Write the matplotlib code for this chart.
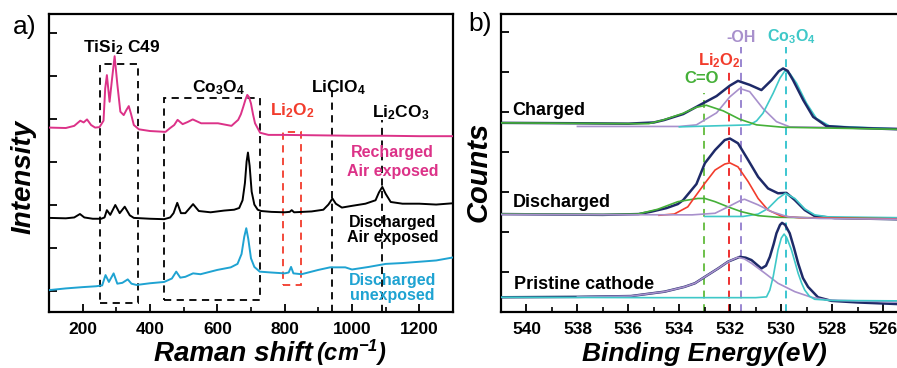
import matplotlib
matplotlib.use('Agg')
import matplotlib.pyplot as plt
from matplotlib.patches import Rectangle
from matplotlib.ticker import MultipleLocator

plt.rcParams['font.family'] = ['Liberation Sans', 'DejaVu Sans']
plt.rcParams['font.weight'] = 'bold'
plt.rcParams['mathtext.default'] = 'regular'

# ---- a) Raman spectra (shift in cm-1, stacked intensity) ----
recharged_x = [100, 150, 175, 193, 203, 213, 225, 237, 250, 262, 267, 272, 276, 280, 287, 295, 303, 312, 322, 330,
               337, 344, 352, 367, 400, 446, 460, 472, 482, 497, 512, 527, 552, 602, 642, 662, 670, 677, 684,
               689, 694, 700, 706, 712, 727, 752, 800, 900, 1000, 1100, 1200, 1300]
recharged_y = [4.29, 4.28, 4.33, 4.45, 4.41, 4.48, 4.35, 4.29, 4.3, 4.45, 5.2, 5.51, 5.2, 4.89, 5.4, 5.95, 5.3, 4.66, 4.58, 4.7,
               4.79, 4.6, 4.35, 4.25, 4.21, 4.19, 4.28, 4.35, 4.47, 4.37, 4.42, 4.48, 4.39, 4.39, 4.33, 4.47, 4.6, 4.77, 4.95,
               5.05, 5.0, 4.85, 4.6, 4.39, 4.17, 4.12, 4.12, 4.11, 4.1, 4.1, 4.09, 4.09]

air_x = [100, 150, 175, 192, 205, 230, 255, 265, 272, 282, 297, 310, 325, 340, 352, 400, 442, 460, 470, 481, 492, 505,
         528, 545, 580, 620, 650, 665, 675, 682, 687, 691, 696, 702, 710, 720, 730, 760, 800, 815, 821, 828, 880, 915,
         930, 942, 952, 970, 1000, 1040, 1070, 1080, 1090, 1100, 1115, 1150, 1200, 1250, 1300]
air_y = [2.19, 2.18, 2.2, 2.28, 2.2, 2.17, 2.17, 2.2, 2.37, 2.26, 2.49, 2.3, 2.45, 2.25, 2.19, 2.17, 2.16, 2.2, 2.3, 2.54, 2.3, 2.3,
         2.51, 2.35, 2.32, 2.36, 2.38, 2.42, 2.6, 3.0, 3.5, 3.71, 3.4, 2.8, 2.5, 2.38, 2.35, 2.33, 2.32, 2.33, 2.37, 2.32, 2.34, 2.38,
         2.5, 2.64, 2.52, 2.43, 2.47, 2.52, 2.6, 2.78, 2.91, 2.75, 2.56, 2.52, 2.52, 2.5, 2.53]

unexp_x = [100, 150, 200, 240, 258, 268, 278, 292, 303, 318, 334, 345, 360, 400, 442, 465, 478, 490, 505, 528, 550, 600,
           640, 660, 672, 680, 686, 692, 700, 710, 726, 760, 800, 812, 819, 826, 850, 900, 935, 980, 1000, 1050, 1100,
           1150, 1200, 1250, 1300]
unexp_y = [0.51, 0.55, 0.58, 0.6, 0.62, 0.86, 0.7, 0.9, 0.66, 0.68, 0.76, 0.66, 0.63, 0.67, 0.7, 0.78, 0.94, 0.8, 0.82, 0.9, 0.88, 0.98,
           1.04, 1.12, 1.35, 1.75, 1.95, 1.7, 1.25, 1.05, 0.94, 0.92, 0.9, 0.92, 1.05, 0.9, 0.88, 0.98, 1.04, 1.04, 0.99, 1.05, 1.12,
           1.14, 1.17, 1.2, 1.27]

# band regions marked on the Raman plot: (x0, x1, y0, y1)
tisi2_box = (252, 365, 0.2, 5.78)
co3o4_box = (442, 726, 0.28, 4.97)
li2o2_box = (796, 848, 0.63, 4.19)
liclo4_pos, liclo4_top = 942, 5.2
li2co3_pos, li2co3_top = 1090, 4.47

# ---- b) O 1s XPS (binding energy in eV) ----
ch_env_x = [541, 538, 536, 535, 534.6, 533.85, 533.33, 533.07, 532.54, 532.02, 531.7, 531.24, 530.78, 530.38, 530.1,
            529.93, 529.75, 529.54, 529.14, 528.75, 528.23, 527.3, 525.45]
ch_env_y = [4.73, 4.72, 4.71, 4.74, 4.8, 4.95, 5.13, 5.22, 5.4, 5.66, 5.78, 5.68, 5.55, 5.8, 6.02,
            6.09, 6.03, 5.8, 5.3, 4.88, 4.65, 4.61, 4.57]
ch_co_x = [541, 536, 535.2, 534.64, 533.85, 533.33, 532.94, 532.28, 531.63, 530.97, 529.93, 525.45]
ch_co_y = [4.73, 4.71, 4.71, 4.8, 4.97, 5.12, 5.17, 5.03, 4.82, 4.68, 4.62, 4.57]
ch_oh_x = [538, 534, 533.33, 532.54, 532.02, 531.63, 531.24, 530.72, 530.19, 529.67, 528.5, 525.45]
ch_oh_y = [4.64, 4.64, 4.68, 4.98, 5.38, 5.59, 5.51, 5.09, 4.76, 4.63, 4.62, 4.6]
ch_cox_x = [534, 531.24, 530.97, 530.72, 530.32, 530.05, 529.86, 529.65, 529.4, 529.01, 528.62, 528.1, 525.45]
ch_cox_y = [4.63, 4.68, 4.78, 4.97, 5.47, 5.85, 6.03, 5.95, 5.72, 5.22, 4.84, 4.65, 4.58]

dis_env_x = [541, 537, 535.6, 535.1, 534.5, 534.06, 533.85, 533.33, 533.0, 532.6, 532.22, 532.02, 531.7, 531.3, 530.91,
             530.52, 530.13, 529.8, 529.47, 529.08, 528.69, 527.9, 525.45]
dis_env_y = [2.45, 2.43, 2.45, 2.51, 2.6, 2.7, 2.8, 3.2, 3.72, 4.05, 4.3, 4.34, 4.22, 3.8, 3.38,
             3.09, 2.97, 2.98, 2.8, 2.55, 2.4, 2.35, 2.32]
dis_li_x = [534.8, 534.2, 533.67, 533.39, 533.0, 532.6, 532.22, 532.02, 531.7, 531.3, 530.91, 530.52, 530.0, 529.3, 525.45]
dis_li_y = [2.42, 2.45, 2.63, 2.88, 3.22, 3.55, 3.7, 3.73, 3.63, 3.26, 2.84, 2.55, 2.4, 2.36, 2.33]
dis_co_x = [541, 537, 535.63, 534.85, 534.06, 533.28, 533.0, 532.6, 532.09, 531.57, 530.91, 530.13, 528, 525.45]
dis_co_y = [2.45, 2.44, 2.45, 2.57, 2.76, 2.84, 2.84, 2.76, 2.63, 2.51, 2.41, 2.37, 2.35, 2.33]
dis_oh_x = [541, 533.5, 532.6, 532.09, 531.57, 531.44, 530.91, 530.38, 529.73, 528.5, 525.45]
dis_oh_y = [2.44, 2.43, 2.47, 2.63, 2.8, 2.82, 2.68, 2.51, 2.38, 2.34, 2.32]
dis_cox_x = [533, 531.5, 530.91, 530.52, 530.13, 529.84, 529.47, 529.08, 528.69, 528.16, 525.45]
dis_cox_y = [2.39, 2.39, 2.45, 2.59, 2.84, 2.97, 2.84, 2.58, 2.43, 2.38, 2.36]

pr_env_x = [541, 538, 535.9, 534.58, 533.8, 533.39, 533.0, 532.48, 532.09, 531.63, 531.4, 531.17, 530.95, 530.78,
            530.6, 530.45, 530.3, 530.19, 530.05, 529.97, 529.85, 529.67, 529.5, 529.34, 529.15, 528.95, 528.56,
            528.03, 527, 525.45]
pr_env_y = [0.37, 0.38, 0.4, 0.51, 0.63, 0.72, 0.88, 1.09, 1.26, 1.38, 1.36, 1.3, 1.18, 1.09,
            1.16, 1.38, 1.7, 1.97, 2.18, 2.23, 2.18, 1.97, 1.6, 1.22, 0.85, 0.63, 0.37,
            0.28, 0.24, 0.2]
pr_oh_x = [538, 535.9, 534.58, 533.8, 533.39, 533.0, 532.48, 532.09, 531.7, 531.45, 531.17, 530.64, 530.13, 529.47,
           528.82, 528.16, 525.45]
pr_oh_y = [0.38, 0.4, 0.51, 0.63, 0.72, 0.88, 1.09, 1.26, 1.37, 1.33, 1.22, 0.97, 0.72, 0.51, 0.37, 0.3, 0.25]
pr_cox_x = [541, 535, 531, 530.58, 530.45, 530.32, 530.2, 530.13, 530.0, 529.89, 529.78, 529.6, 529.45, 529.34,
            529.2, 529.08, 528.9, 528.69, 528, 525.45]
pr_cox_y = [0.37, 0.36, 0.36, 0.38, 0.55, 0.88, 1.3, 1.55, 1.85, 1.95, 1.85, 1.55, 1.22, 0.97,
            0.72, 0.55, 0.4, 0.32, 0.29, 0.28]

# reference binding energies and how high their dashed markers go
marker_be = [533.05, 532.05, 531.6, 529.8]
marker_top = [5.47, 6.0, 6.63, 6.63]

pink = '#dc3288'
blue = '#1fa3d2'
red = '#f23c2c'
navy = '#1e2a68'
green = '#45b038'
lav = '#a890cc'
cyan = '#3fc8c8'

fig = plt.figure(figsize=(8.97, 3.68), dpi=100)
ax1 = fig.add_axes([0.0546, 0.152, 0.4504, 0.8098])
ax2 = fig.add_axes([0.5585, 0.152, 0.4415, 0.8098])

# ---------- panel a ----------
dash = (0, (4, 3))
for (x0, x1, y0, y1), c in [(tisi2_box, 'k'), (co3o4_box, 'k'), (li2o2_box, red)]:
    ax1.add_patch(Rectangle((x0, y0), x1 - x0, y1 - y0, fill=False, ec=c, lw=1.3, ls=dash, zorder=1))
ax1.plot([liclo4_pos, liclo4_pos], [0, liclo4_top], color='k', lw=1.3, ls=dash, zorder=1)
ax1.plot([li2co3_pos, li2co3_pos], [0, li2co3_top], color='k', lw=1.3, ls=dash, zorder=1)

ax1.plot(recharged_x, recharged_y, color=pink, lw=1.4, zorder=3)
ax1.plot(air_x, air_y, color='k', lw=1.4, zorder=3)
ax1.plot(unexp_x, unexp_y, color=blue, lw=1.4, zorder=3)

ax1.text(316, 6.05, 'TiSi$_2$ C49', ha='center', va='baseline', fontsize=12.5)
ax1.text(603, 5.12, 'Co$_3$O$_4$', ha='center', va='baseline', fontsize=12.5)
ax1.text(960, 5.12, 'LiClO$_4$', ha='center', va='baseline', fontsize=12.5)
ax1.text(822, 4.58, 'Li$_2$O$_2$', ha='center', va='baseline', fontsize=12.5, color=red)
ax1.text(1146, 4.53, 'Li$_2$CO$_3$', ha='center', va='baseline', fontsize=12.5)

ax1.text(1120, 3.61, 'Recharged', ha='center', va='baseline', fontsize=11.5, color=pink)
ax1.text(1120, 3.17, 'Air exposed', ha='center', va='baseline', fontsize=11.5, color=pink)
ax1.text(1120, 1.98, 'Discharged', ha='center', va='baseline', fontsize=11.5, color='k')
ax1.text(1120, 1.63, 'Air exposed', ha='center', va='baseline', fontsize=11.5, color='k')
ax1.text(1120, 0.63, 'Discharged', ha='center', va='baseline', fontsize=11.5, color=blue)
ax1.text(1120, 0.28, 'unexposed', ha='center', va='baseline', fontsize=11.5, color=blue)

ax1.set_xlim(100, 1300)
ax1.set_ylim(0, 6.93)
ax1.xaxis.set_major_locator(MultipleLocator(200))
ax1.xaxis.set_minor_locator(MultipleLocator(100))
ax1.set_yticks([0.5, 1.5, 2.5, 3.5, 4.5, 5.5, 6.5])
ax1.set_yticklabels([])

# ---------- panel b ----------
for be, top, c in zip(marker_be, marker_top, ['#6cc04a', '#ee3030', '#9a86d0', '#3cc6d0']):
    ax2.plot([be, be], [0, top], color=c, lw=1.4, ls=(0, (4, 3)), zorder=1)

ax2.plot(ch_oh_x, ch_oh_y, color=lav, lw=1.2, zorder=2)
ax2.plot(ch_cox_x, ch_cox_y, color=cyan, lw=1.2, zorder=2)
ax2.plot(ch_env_x, ch_env_y, color=navy, lw=1.8, zorder=3)
ax2.plot(ch_co_x, ch_co_y, color=green, lw=1.2, zorder=4)

ax2.plot(dis_env_x, dis_env_y, color=navy, lw=1.8, zorder=3)
ax2.plot(dis_cox_x, dis_cox_y, color=cyan, lw=1.2, zorder=4)
ax2.plot(dis_co_x, dis_co_y, color=green, lw=1.2, zorder=4)
ax2.plot(dis_li_x, dis_li_y, color=red, lw=1.2, zorder=4)
ax2.plot(dis_oh_x, dis_oh_y, color=lav, lw=1.2, zorder=4)

ax2.plot(pr_env_x, pr_env_y, color=navy, lw=1.8, zorder=3)
ax2.plot(pr_oh_x, pr_oh_y, color=lav, lw=1.2, zorder=4)
ax2.plot(pr_cox_x, pr_cox_y, color=cyan, lw=1.2, zorder=4)

ax2.text(540.55, 4.93, 'Charged', ha='left', va='baseline', fontsize=13)
ax2.text(540.55, 2.63, 'Discharged', ha='left', va='baseline', fontsize=13)
ax2.text(540.5, 0.57, 'Pristine cathode', ha='left', va='baseline', fontsize=13)

ax2.text(533.13, 5.72, 'C=O', ha='center', va='baseline', fontsize=12, color=green)
ax2.text(532.41, 6.18, 'Li$_2$O$_2$', ha='center', va='baseline', fontsize=12, color=red)
ax2.text(531.56, 6.76, '-OH', ha='center', va='baseline', fontsize=11.5, color=lav)
ax2.text(529.6, 6.76, 'Co$_3$O$_4$', ha='center', va='baseline', fontsize=11.5, color=cyan)

ax2.set_xlim(541.0, 525.46)
ax2.set_ylim(0, 7.45)
ax2.xaxis.set_major_locator(MultipleLocator(2))
ax2.xaxis.set_minor_locator(MultipleLocator(1))
ax2.set_yticks([1, 2, 3, 4, 5, 6, 7])
ax2.set_yticklabels([])
ax2.spines['right'].set_visible(False)

for ax in (ax1, ax2):
    for s in ax.spines.values():
        s.set_linewidth(1.6)
    ax.tick_params(which='major', direction='in', length=6, width=1.3, labelsize=12.5, pad=7)
    ax.tick_params(which='minor', direction='in', length=3.5, width=1.2)
    ax.tick_params(axis='y', which='both', right=False)
    ax.tick_params(axis='x', which='both', top=False)
    for lab in ax.get_xticklabels():
        lab.set_fontweight('bold')

fig.text(0.028, 0.907, 'a)', fontsize=19, fontweight='normal', ha='center', va='baseline')
fig.text(0.535, 0.916, 'b)', fontsize=19, fontweight='normal', ha='center', va='baseline')
fig.text(0.026, 0.519, 'Intensity', rotation=90, fontsize=20, style='italic', ha='center', va='center')
fig.text(0.533, 0.533, 'Counts', rotation=90, fontsize=21, style='italic', ha='center', va='center')
fig.text(0.349, 0.018, 'Raman shift', fontsize=20, style='italic', ha='right', va='baseline')
fig.text(0.352, 0.018, '(cm$^{-1}$)', fontsize=17, style='italic', ha='left', va='baseline')
fig.text(0.785, 0.018, 'Binding Energy(eV)', fontsize=19, style='italic', ha='center', va='baseline')

fig.savefig('out.png', dpi=100)
